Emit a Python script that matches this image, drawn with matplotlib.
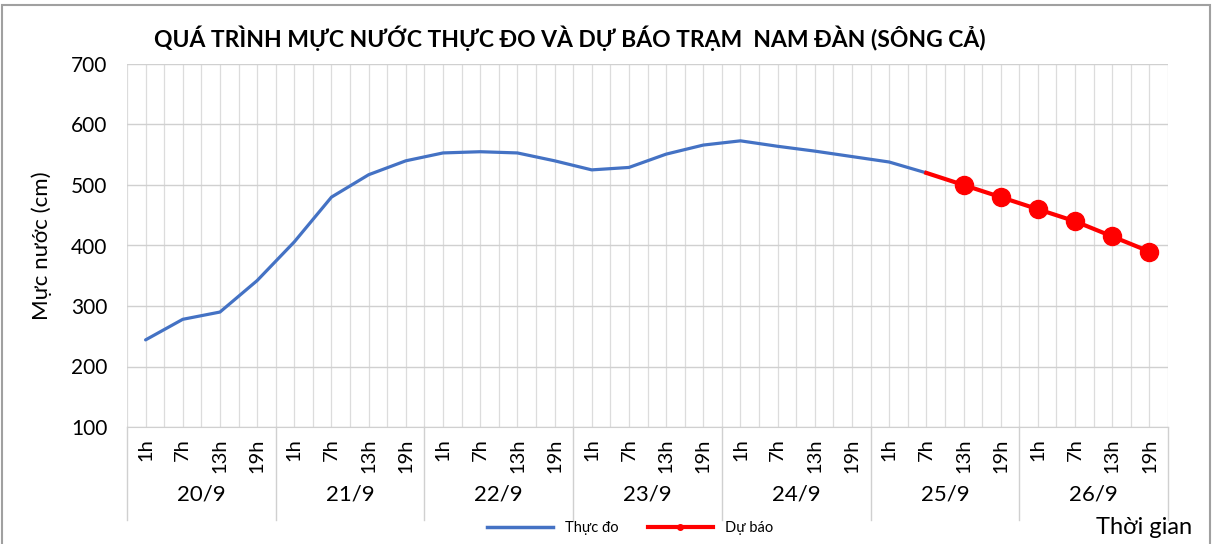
import numpy as np
import matplotlib
matplotlib.use('Agg')
import matplotlib.pyplot as plt
from matplotlib.lines import Line2D
from matplotlib.patches import Rectangle
import matplotlib.transforms as mtransforms

plt.rcParams['font.family'] = ['Lato', 'DejaVu Sans']

# du lieu
ngay = ['20/9', '21/9', '22/9', '23/9', '24/9', '25/9', '26/9']
gio = ['1h', '7h', '13h', '19h']
thuc_do = [244, 278, 290, 342, 406, 480, 517, 540, 553, 555, 553, 540,
           525, 529, 551, 566, 573, 564, 556, 547, 538, 520]
du_bao = [520, 500, 480, 460, 440, 415, 390]

nhan_gio = gio * len(ngay)
n = len(nhan_gio)
x_td = np.arange(len(thuc_do))
x_db = np.arange(len(thuc_do) - 1, len(thuc_do) - 1 + len(du_bao))

fig = plt.figure(figsize=(12.12, 5.44), dpi=100)
ax = fig.add_axes([127/1212, 1 - 427/544, (1168 - 127)/1212, (427 - 64)/544])

ax.plot(x_td, thuc_do, color='#4472c4', lw=2.3, solid_capstyle='round', zorder=3)
ax.plot(x_db, du_bao, color='#ff0000', lw=3, marker='o', markersize=13,
        markevery=list(range(1, len(du_bao))), zorder=4)

ax.set_xlim(-0.5, n - 0.5)
ax.set_ylim(100, 700)
ax.set_yticks(range(100, 701, 100))
ax.tick_params(axis='y', labelsize=15, length=0, pad=14)

ax.set_xticks(np.arange(n))
ax.set_xticklabels(nhan_gio, rotation=90, fontsize=14.5)
ax.set_xticks(np.arange(n + 1) - 0.5, minor=True)
ax.tick_params(axis='x', which='both', length=0, pad=8)

ax.grid(True, which='both', axis='x', color='#dcdcdc', lw=0.9)
ax.grid(True, which='major', axis='y', color='#d0d0d0', lw=1)
ax.set_axisbelow(True)
for s in ['top', 'right', 'left']:
    ax.spines[s].set_visible(False)
ax.spines['bottom'].set_color('#d0d0d0')

# nhan ngay va duong phan cach
trans = mtransforms.blended_transform_factory(ax.transData, ax.transAxes)
for i, d in enumerate(ngay):
    ax.text(i * 4 + 1.5, -0.185, d, transform=trans, ha='center', va='center', fontsize=16)
for k in range(len(ngay) + 1):
    ax.plot([k * 4 - 0.5, k * 4 - 0.5], [0, -0.255], transform=trans,
            color='#d0d0d0', lw=1, clip_on=False)

ax.set_ylabel('Mực nước (cm)', fontsize=16, labelpad=14)

fig.text(0.47, 0.93, 'QUÁ TRÌNH MỰC NƯỚC THỰC ĐO VÀ DỰ BÁO TRẠM  NAM ĐÀN (SÔNG CẢ)',
         ha='center', va='center', fontsize=16.5, fontweight='bold')
fig.text(0.984, 0.03, 'Thời gian', ha='right', va='center', fontsize=17)

handles = [Line2D([], [], color='#4472c4', lw=2.5),
           Line2D([], [], color='#ff0000', lw=3, marker='o', markersize=4)]
fig.legend(handles, ['Thực đo', 'Dự báo'], loc='center', bbox_to_anchor=(0.52, 0.03),
           ncol=2, frameon=False, fontsize=10.5, handlelength=4.5, columnspacing=2)

fig.patches.append(Rectangle((0.002, -0.01), 0.996, 1.0, transform=fig.transFigure,
                             fill=False, edgecolor='#a0a0a0', lw=1.5))

plt.savefig('out.png', dpi=100)
